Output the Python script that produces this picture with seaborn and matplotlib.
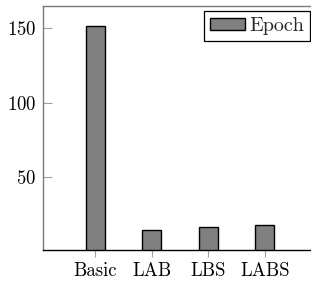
import seaborn as sns
import matplotlib.pyplot as plt

categories = ["Basic", "LAB", "LBS", "LABS"]
epochs = [151, 15, 16.7, 17.9]
series_name = "Epoch"
y_ticks = [50, 100, 150]

sns.set_theme(style="white")
plt.rcParams["font.family"] = ["cmr10", "DejaVu Serif"]
plt.rcParams["axes.formatter.use_mathtext"] = True
plt.rcParams["font.size"] = 13.5

fig = plt.figure(figsize=(3.11, 2.83), dpi=100)
ax = fig.add_axes([43 / 311, 33 / 283, 274 / 311, 244.5 / 283])

sns.barplot(ax=ax, x=categories, y=epochs, color="#808080", saturation=1,
            edgecolor="black", linewidth=1.0, width=0.335, label=series_name)

ax.set_xlim(-0.92, 3.92)
ax.set_ylim(1.3, 165)
ax.set_yticks(y_ticks)
ax.set_xlabel("")
ax.set_ylabel("")

for side in ["left", "top", "right"]:
    ax.spines[side].set_color("#7a7a7a")
    ax.spines[side].set_linewidth(1.0)
ax.spines["bottom"].set_color("black")
ax.spines["bottom"].set_linewidth(1.0)

ax.tick_params(axis="y", direction="in", length=6.5, width=0.8, color="#a0a0a0",
               left=True, pad=5, labelsize=13.5, labelcolor="black")
ax.tick_params(axis="x", direction="out", length=5, width=0.8, color="#a0a0a0",
               bottom=True, pad=3.5, labelsize=13.5, labelcolor="black")

leg = ax.legend(loc="upper right", bbox_to_anchor=(310 / 311, 1 - 11.3 / 283),
                bbox_transform=fig.transFigure, borderaxespad=0, fancybox=False,
                edgecolor="black", framealpha=1, handlelength=1.75, handleheight=0.55,
                handletextpad=0.2, borderpad=0.3, fontsize=14.5)
leg.get_frame().set_linewidth(0.9)

plt.savefig("out.png", dpi=100)
